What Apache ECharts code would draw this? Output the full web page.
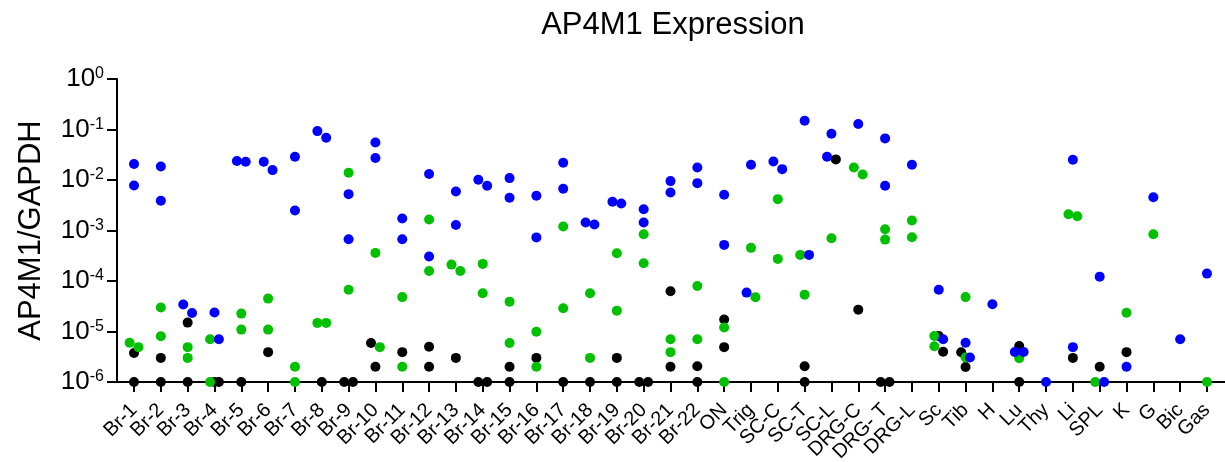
<!DOCTYPE html>
<html><head><meta charset="utf-8">
<script src="https://cdn.jsdelivr.net/npm/echarts@6/dist/echarts.min.js"></script>
<style>html,body{margin:0;padding:0;background:#fff}#c{width:1225px;height:462px}</style>
</head><body><div id="c"></div>
<script>
// Categories (tissues)
const categories = ['Br-1','Br-2','Br-3','Br-4','Br-5','Br-6','Br-7','Br-8','Br-9','Br-10','Br-11','Br-12','Br-13','Br-14','Br-15','Br-16','Br-17','Br-18','Br-19','Br-20','Br-21','Br-22','ON','Trig','SC-C','SC-T','SC-L','DRG-C','DRG- T','DRG-L','Sc','Tib','H','Lu','Thy','Li','SPL','K','G','Bic','Gas'];

// AP4M1/GAPDH values per category (undetectable values plotted at the 1e-6 floor)
const blueValues = [
  [0.0207,0.0078],[0.0185,0.00387],[2.33e-5,3.42e-5],[2.37e-5,7.0e-6],[0.0237,0.0230],
  [0.0230,0.0157],[0.0288,0.00249],[0.093,0.0687],[0.00525,0.00067],[0.0555,0.0272],
  [0.00173,0.00067],[0.0131,0.000305],[0.00593,0.00129],[0.00767,0.0101],[0.0109,0.00444],
  [0.00486,0.00073],[0.0219,0.0067],[0.00144,0.00131],[0.00343,0.0037],[0.00264,0.00144],
  [0.0095,0.00566],[0.0177,0.00867],[0.00509,0.000519],[0.020,5.89e-5],[0.0164,0.0233],
  [0.149,0.000329],[0.0824,0.0288],[0.128],[0.0667,0.00767],[0.020],
  [6.7e-5,7.0e-6],[6.0e-6,3.05e-6],[3.46e-5],[3.93e-6,3.93e-6],[1e-6],
  [0.0251,4.9e-6],[0.000122,1e-6],[2.0e-6],[0.00457],[7.0e-6],[0.00014]
];
const greenValues = [
  [6.0e-6,4.9e-6],[2.98e-5,8.05e-6],[4.9e-6,3.0e-6],[7.0e-6,1e-6],[2.26e-5,1.09e-5],
  [4.48e-5,1.09e-5],[2.0e-6,1e-6],[1.48e-5,1.48e-5],[0.0139,6.7e-5],[3.6e-4,4.9e-6],
  [4.8e-5,2.0e-6],[1.65e-3,1.58e-4],[2.11e-4,1.58e-4],[2.18e-4,5.7e-5],[3.9e-5,5.9e-6],
  [9.9e-6,2.0e-6],[1.2e-3,2.88e-5],[5.7e-5,3.0e-6],[3.55e-4,2.59e-5],[8.45e-4,2.25e-4],
  [7.0e-6,3.9e-6],[7.98e-5,7.0e-6],[1.2e-5,1e-6],[4.53e-4,4.79e-5],[4.18e-3,2.74e-4],
  [3.29e-4,5.37e-5],[7.0e-4],[0.0177,0.0129],[1.06e-3,6.6e-4],[1.58e-3,7.36e-4],
  [8.17e-6,5.1e-6],[4.8e-5,3.05e-6],[],[2.95e-6],[],
  [1.92e-3,2.1e-3],[1e-6],[2.36e-5],[8.45e-4],[],[1e-6]
];
const blackValues = [
  [3.75e-6,1e-6],[3.0e-6,1e-6],[1.5e-5,1e-6],[1e-6,1e-6],[1e-6],
  [3.9e-6],[],[1e-6],[1e-6,1e-6],[5.9e-6,2.0e-6],
  [3.9e-6],[5.0e-6,2.0e-6],[3.0e-6],[1e-6,1e-6],[2.0e-6,1e-6],
  [3.0e-6],[1e-6],[1e-6],[3.0e-6,1e-6],[1e-6,1e-6],
  [6.25e-5,2.0e-6],[2.05e-6,1e-6],[1.73e-5,4.9e-6],[],[],
  [2.05e-6,1e-6],[0.0256],[2.71e-5],[1e-6,1e-6],[],
  [8.17e-6,3.98e-6],[3.89e-6,1.98e-6],[],[5.16e-6,1e-6],[],
  [3.0e-6],[2.0e-6],[3.9e-6],[],[],[]
];
const yTickExponents = [0,-1,-2,-3,-4,-5,-6];

// ---- horizontal spreading of overlapping dots (computed, Prism-like) ----
const seriesDefs = [
  {name:'black', values: blackValues, color:'#000000', order:2},
  {name:'green', values: greenValues, color:'#00C000', order:0},
  {name:'blue',  values: blueValues,  color:'#0000FF', order:1}
];
const SPREAD = 4.4 / 26.8; // half-spread in category units
const out = {black:[], green:[], blue:[]};
categories.forEach((c, i) => {
  const pts = [];
  seriesDefs.forEach(s => (s.values[i] || []).forEach(v => pts.push({s:s.name, order:s.order, v, l:Math.log10(v)})));
  pts.sort((a,b) => (b.l - a.l) || (a.order - b.order));
  const rows = [];
  let row = null;
  pts.forEach(p => {
    const linked = row && row.some(q => {
      const d = Math.abs(q.l - p.l);
      return q.s === p.s ? d < 0.17 : d < 0.11;
    });
    if (linked) row.push(p); else { row = [p]; rows.push(row); }
  });
  rows.forEach(r => {
    const n = r.length;
    r.forEach((p, k) => {
      const off = n === 1 ? 0 : (-SPREAD + 2 * SPREAD * k / (n - 1));
      out[p.s].push([i + off, p.v]);
    });
  });
});

const FONT = 'Liberation Sans, Arial, sans-serif';
const chart = echarts.init(document.getElementById('c'), null, {renderer:'canvas'});
chart.setOption({
  animation: false,
  backgroundColor: '#fff',
  title: {
    text: 'AP4M1 Expression', left: 668, top: 5, textAlign: 'center',
    textStyle: {fontFamily: FONT, fontSize: 31, fontWeight: 'normal', color: '#000'}
  },
  grid: [
    {left: 120.6, right: 4.6, top: 79, bottom: 80, containLabel: false, outerBoundsMode: 'none'},
    {left: 117, right: 0, top: 79, bottom: 80, containLabel: false, outerBoundsMode: 'none'}
  ],
  xAxis: [
    {type:'category', gridIndex:0, data: categories, boundaryGap: true,
     axisLine:{show:false},
     axisTick:{show:true, alignWithLabel:true, length:10, lineStyle:{color:'#000', width:2}},
     axisLabel:{interval:0, rotate:45, margin:25, fontFamily:FONT, fontSize:20, color:'#000'},
     splitLine:{show:false}},
    {type:'value', gridIndex:0, min:-0.5, max: categories.length - 0.5, show:false},
    {type:'value', gridIndex:1, min:0, max:1,
     axisLine:{show:true, onZero:false, lineStyle:{color:'#000', width:2}},
     axisTick:{show:false}, axisLabel:{show:false}, splitLine:{show:false}}
  ],
  yAxis: [
    {type:'log', gridIndex:0, logBase:10, min:1e-6, max:1, show:false},
    {type:'log', gridIndex:1, logBase:10, min:1e-6, max:1,
     name:'AP4M1/GAPDH', nameLocation:'middle', nameRotate:90, nameGap:70,
     nameTextStyle:{fontFamily:FONT, fontSize:31, color:'#000'},
     axisLine:{show:true, lineStyle:{color:'#000', width:2}},
     axisTick:{show:true, length:10, lineStyle:{color:'#000', width:2}},
     minorTick:{show:false}, splitLine:{show:false},
     axisLabel:{margin:13, color:'#000',
       formatter: v => {
         const e = Math.round(Math.log10(v));
         return yTickExponents.includes(e) ? '{b|10}{s|' + e + '}' : '';
       },
       rich:{
         b:{fontFamily:FONT, fontSize:26, lineHeight:26, color:'#000'},
         s:{fontFamily:FONT, fontSize:16, lineHeight:16, verticalAlign:'top', color:'#000'}
       }}}
  ],
  series: seriesDefs.map(s => ({
    type:'scatter', name:s.name, xAxisIndex:1, yAxisIndex:0,
    data: out[s.name], symbol:'circle', symbolSize:10, clip:true,
    itemStyle:{color:s.color, opacity:1}, emphasis:{disabled:true}, silent:true
  }))
});
</script></body></html>
